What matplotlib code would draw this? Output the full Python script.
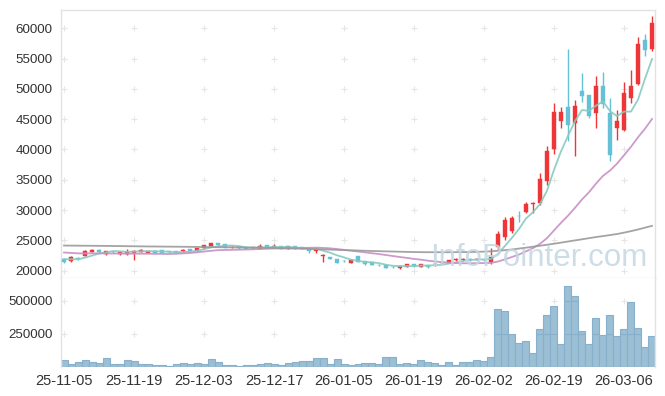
import matplotlib
matplotlib.use("Agg")
import matplotlib.pyplot as plt
import numpy as np

dates = (["25-11-%02d" % d for d in [5, 6, 7, 10, 11, 12, 13, 14, 17, 18, 19, 20, 21, 24, 25, 26, 27, 28]] +
         ["25-12-%02d" % d for d in [1, 2, 3, 4, 5, 8, 9, 10, 11, 12, 15, 16, 17, 18, 19, 22, 23, 24, 26, 29, 30]] +
         ["26-01-%02d" % d for d in [2, 5, 6, 7, 8, 9, 12, 13, 14, 15, 16, 19, 20, 21, 22, 23, 26, 27, 28, 29, 30]] +
         ["26-02-%02d" % d for d in [2, 3, 4, 5, 6, 9, 10, 11, 12, 13, 19, 20, 23, 24, 25, 26, 27]] +
         ["26-03-%02d" % d for d in [3, 4, 5, 6, 9, 10, 11, 12]])

opens = [22000, 21660, 22100, 22480, 23140, 23470, 22810, 23150, 22810, 22760,
         22860, 23140, 22980, 23300, 23360, 23200, 23200, 23200, 23580, 23300,
         23690, 24130, 24570, 24400, 23850, 24130, 23910, 23750, 23580, 24190,
         23800, 24080, 23580, 24020, 23850, 23800, 23250, 22400, 22260, 21880,
         21600, 21330, 22430, 21550, 21380, 21000, 21000, 20650, 20500, 20670,
         21050, 20670, 20940, 21050, 21220, 21330, 21710, 21710, 22000, 21760,
         21800, 21490, 23966, 25506, 26606, 29100, 29740, 31050, 31116, 34856,
         40026, 44756, 47011, 44426, 49651, 48991, 46076, 50476, 46021, 43601,
         43271, 48551, 50861, 58066, 56581]
highs = [22150, 22420, 22300, 23400, 23640, 23640, 23300, 23250, 23150, 23600,
         23350, 23500, 23300, 23350, 23400, 23250, 23250, 23500, 23650, 23800,
         24300, 24600, 24600, 24450, 24000, 24150, 23950, 23950, 24400, 24250,
         24400, 24100, 24100, 24050, 23880, 23850, 23700, 22810, 22300, 22000,
         21700, 21900, 22450, 21600, 21400, 21100, 21050, 20750, 20850, 21100,
         21150, 21150, 21000, 21380, 21450, 21800, 22150, 22050, 22050, 22050,
         21900, 23690, 26550, 28900, 29026, 29900, 31390, 31300, 36066, 40576,
         47616, 46956, 56526, 48166, 52566, 49000, 52126, 52841, 48551, 46516,
         51191, 53116, 58506, 59056, 62081]
lows = [21300, 21500, 21700, 22400, 23100, 22900, 22550, 22950, 22550, 22600,
        21700, 23100, 22900, 22950, 22950, 23000, 23000, 23150, 23200, 23250,
        23650, 24100, 24150, 23800, 23800, 23650, 23600, 23700, 23550, 23800,
        23750, 23500, 23550, 23550, 23500, 22980, 22980, 21500, 21900, 21250,
        21400, 21300, 21450, 21000, 20950, 20850, 20450, 20400, 20220, 20600,
        20650, 20600, 20500, 20830, 21150, 21300, 21650, 21650, 21650, 21700,
        21650, 21100, 23400, 25066, 26166, 28100, 29466, 29600, 30841, 34200,
        39200, 43491, 41400, 38926, 47891, 45141, 43491, 46791, 38156, 41566,
        43000, 47726, 50700, 55426, 56250]
closes = [21450, 22260, 22000, 23300, 23470, 23100, 23250, 23090, 23090, 23090,
          23300, 23420, 23250, 22980, 22980, 23030, 23030, 23420, 23250, 23750,
          24240, 24570, 24190, 23860, 23920, 23690, 23640, 23910, 24130, 23860,
          24080, 23530, 24080, 23580, 23530, 23250, 23640, 22540, 21930, 21330,
          21550, 21820, 21490, 21050, 21000, 20890, 20500, 20600, 20830, 21050,
          20720, 21050, 20560, 21160, 21380, 21770, 21880, 21990, 21710, 21980,
          21770, 22316, 26056, 28366, 28696, 29000, 30950, 31230, 35076, 39750,
          46186, 46186, 44096, 47176, 48881, 45581, 50476, 47561, 39146, 44756,
          49321, 50476, 57406, 56471, 60926]
volumes = [53000, 23000, 38000, 53000, 38000, 30000, 68000, 23000, 23000, 53000,
           45000, 23000, 23000, 15000, 15000, 8000, 23000, 30000, 23000, 30000,
           23000, 60000, 38000, 15000, 15000, 8000, 15000, 15000, 23000, 30000,
           23000, 15000, 30000, 38000, 45000, 45000, 68000, 68000, 23000, 60000,
           23000, 15000, 23000, 30000, 30000, 23000, 76000, 76000, 23000, 30000,
           23000, 53000, 38000, 30000, 15000, 38000, 15000, 38000, 38000, 53000,
           45000, 76000, 439000, 424000, 250000, 182000, 197000, 106000, 288000, 394000,
           462000, 174000, 614000, 538000, 273000, 174000, 371000, 242000, 394000, 235000,
           288000, 492000, 295000, 152000, 235000]
# closes before the first visible session (estimated from the MA lines' starting levels)
prior_closes = [23600, 23400, 23500, 23200, 23300, 23450, 23350, 23250, 23400, 23300,
                23500, 23350, 23300, 23250, 23350, 22300, 22100, 21900, 21750]
# 120-day moving average
ma120 = [24150, 24140, 24130, 24120, 24110, 24100, 24090, 24075, 24060, 24045,
         24030, 24015, 24000, 23990, 23980, 23970, 23960, 23950, 23935, 23920,
         23905, 23890, 23875, 23860, 23845, 23830, 23815, 23800, 23785, 23770,
         23750, 23720, 23690, 23660, 23630, 23600, 23560, 23520, 23480, 23440,
         23400, 23365, 23330, 23290, 23255, 23220, 23190, 23160, 23130, 23100,
         23075, 23060, 23050, 23050, 23050, 23050, 23060, 23070, 23080, 23110,
         23150, 23200, 23290, 23390, 23500, 23650, 23800, 23960, 24120, 24280,
         24450, 24630, 24820, 25000, 25180, 25370, 25550, 25710, 25880, 26050,
         26280, 26530, 26800, 27100, 27400]

xtick_pos = [0, 10, 20, 30, 40, 50, 60, 70, 80]
price_ticks = [20000, 25000, 30000, 35000, 40000, 45000, 50000, 55000, 60000]
vol_ticks = [250000, 500000]

UP = "#ee3537"
DOWN = "#67c1d6"

n = len(closes)
x = np.arange(n)
allc = np.array(prior_closes + closes, dtype=float)
npre = len(prior_closes)
ma5 = np.array([allc[npre + i - 4:npre + i + 1].mean() for i in range(n)])
ma20 = np.array([allc[npre + i - 19:npre + i + 1].mean() for i in range(n)])

fig = plt.figure(figsize=(6.65, 3.96), dpi=100)
ax = fig.add_axes([61 / 665, 118 / 396, 594 / 665, 268 / 396])
axv = fig.add_axes([61 / 665, 29 / 396, 594 / 665, 89 / 396], sharex=ax)

for a in (ax, axv):
    a.set_facecolor("white")
    for s in a.spines.values():
        s.set_color("#e2e2e2")
        s.set_linewidth(1.0)
axv.spines["bottom"].set_visible(False)
axv.spines["top"].set_visible(False)

# watermark
fig.text(430 / 665, 1 - 266 / 396, "InfoPointer.com", fontsize=22.5, family="Liberation Sans",
         color="#c3d8e4", alpha=0.85, va="baseline", ha="left", zorder=0.5)

# grid crosses
gx, gy = np.meshgrid(xtick_pos, price_ticks)
ax.scatter(gx.ravel(), gy.ravel(), marker="+", s=14, color="#e6e6e6", linewidths=0.8, zorder=1)
gx2, gy2 = np.meshgrid(xtick_pos, vol_ticks)
axv.scatter(gx2.ravel(), gy2.ravel(), marker="+", s=14, color="#e6e6e6", linewidths=0.8, zorder=1)

# candles
w = 0.68
for i in range(n):
    o, h, l, c = opens[i], highs[i], lows[i], closes[i]
    col = UP if c >= o else DOWN
    ax.vlines(x[i], l, h, color=col, linewidth=1.0, zorder=2)
    bot = min(o, c)
    hgt = max(abs(c - o), 60)
    ax.bar(x[i], hgt, width=w, bottom=bot, color=col, edgecolor=col, linewidth=0.3, zorder=3)

ax.plot(x, ma5, color="#86cbc0", lw=1.3, alpha=0.9, zorder=4)
ax.plot(x, ma20, color="#c98fc6", lw=1.3, alpha=0.9, zorder=4)
ax.plot(x, ma120, color="#9a9a9a", lw=1.3, alpha=0.9, zorder=4)

ax.set_ylim(18795, 63016)
ax.set_yticks(price_ticks)
ax.set_xlim(-0.43, 84.43)

# volume
axv.bar(x, volumes, width=1.0, color="#9bbfd4", edgecolor="#88b0cd", linewidth=0.8, zorder=2)
for i in range(n):
    for t in vol_ticks:
        if volumes[i] > t:
            axv.hlines(t, x[i] - 0.5, x[i] + 0.5, color="#88b0cd", linewidth=0.8, zorder=3)
axv.set_ylim(0, 674000)
axv.set_yticks(vol_ticks)
axv.set_xticks(xtick_pos)
axv.set_xticklabels([dates[i] for i in xtick_pos])

for a in (ax, axv):
    a.tick_params(axis="both", length=0, colors="#333333")
ax.tick_params(axis="y", labelsize=9.6, pad=6)
axv.tick_params(axis="y", labelsize=9.6, pad=6)
axv.tick_params(axis="x", labelsize=10.5, pad=5)
plt.setp(ax.get_xticklabels(), visible=False)
for lab in ax.get_yticklabels() + axv.get_yticklabels() + axv.get_xticklabels():
    lab.set_family("Liberation Sans")

fig.savefig("out.png", dpi=100)
